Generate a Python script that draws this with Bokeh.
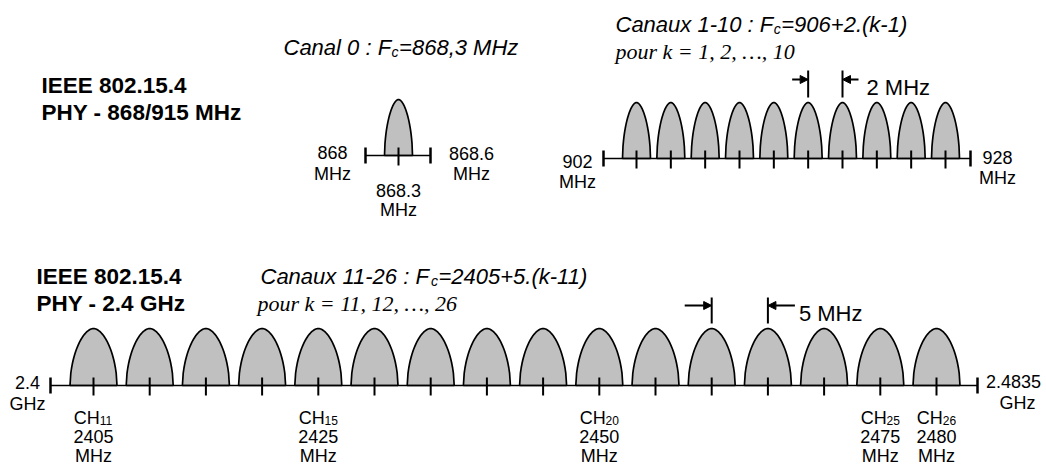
import numpy as np
from bokeh.plotting import figure
from bokeh.models import Range1d, Arrow, NormalHead
from bokeh.core.properties import value
from bokeh.embed import file_html
from bokeh.resources import INLINE

# ---------------- data ----------------
phy868_title = ["IEEE 802.15.4", "PHY - 868/915 MHz"]
phy24_title = ["IEEE 802.15.4", "PHY - 2.4 GHz"]

canal0_formula = ["Canal 0 : F", "c", "=868,3 MHz"]
canaux1_formula = ["Canaux 1-10 : F", "c", "=906+2.(k-1)"]
canaux1_range = "pour k = 1, 2, …, 10"
canaux11_formula = ["Canaux 11-26 : F", "c", "=2405+5.(k-11)"]
canaux11_range = "pour k = 11, 12, …, 26"

band868_edges = [868.0, 868.6]
band868_edge_labels = ["868", "868.6"]
band868_channels = [0]
band868_fc = [868.3]
band868_fc_labels = ["868.3"]

band915_edges = [902.0, 928.0]
band915_edge_labels = ["902", "928"]
band915_channels = [1, 2, 3, 4, 5, 6, 7, 8, 9, 10]
band915_fc = [906, 908, 910, 912, 914, 916, 918, 920, 922, 924]

band24_edges = [2400.0, 2483.5]
band24_edge_labels = ["2.4", "2.4835"]
band24_channels = [11, 12, 13, 14, 15, 16, 17, 18, 19, 20, 21, 22, 23, 24, 25, 26]
band24_fc = [2405, 2410, 2415, 2420, 2425, 2430, 2435, 2440,
             2445, 2450, 2455, 2460, 2465, 2470, 2475, 2480]
band24_labelled = [11, 15, 20, 25, 26]

spacing915_channels = [6, 7]
spacing915_label = "2 MHz"
spacing24_channels = [22, 23]
spacing24_label = "5 MHz"

# ---------------- layout (schematic, not to scale) ----------------
W, H = 1046, 464
SANS = "Liberation Sans"
SERIF = "Liberation Serif"
GREY = "#c0c0c0"

p = figure(width=W, height=H, output_backend="svg", toolbar_location=None,
           x_range=Range1d(0, W), y_range=Range1d(H, 0),
           x_axis_type=None, y_axis_type=None, min_border=0)
p.grid.visible = False
p.outline_line_color = None
p.background_fill_color = "white"
p.border_fill_color = "white"

ADV = {' ': 278, ':': 278, '=': 584, '+': 584, ',': 278, '.': 278, '-': 333,
       '(': 333, ')': 333, '/': 278, 'C': 722, 'a': 556, 'n': 556, 'l': 222,
       'u': 556, 'x': 500, 'F': 611, 'k': 500, 'c': 500, 'M': 833, 'H': 722,
       'z': 500, 'G': 778, 'I': 278, 'E': 667, 'P': 667, 'Y': 667}


def tw(s, size):
    return sum(ADV.get(ch, 556) for ch in s) * size / 1000.0


def txt(x, y, s, size, style="normal", font=SANS, align="left"):
    p.text(x=[x], y=[y], text=[s], text_font=value(font),
           text_font_size=f"{size}px", text_font_style=style,
           text_align=align, text_baseline="alphabetic", text_color="black")


def formula(x, yb, parts, size=22):
    head, sub, tail = parts
    txt(x, yb, head, size, "italic")
    x1 = x + tw(head, size) + 0.5
    ss = round(size * 0.64)
    txt(x1, yb + 4, sub, ss, "italic")
    txt(x1 + tw(sub, ss) + 0.5, yb, tail, size, "italic")


def bump_shapes(xc, y0, half_w, h):
    u = np.linspace(-1, 1, 61)
    prof = (1 - np.abs(u) ** 1.8) ** 0.55
    xs = [list(c + half_w * u) for c in xc]
    ys = [list(y0 - h * prof) for _ in xc]
    return xs, ys


def draw_band(fc, edges, knots_f, knots_px, y0, half_w, h):
    xc = np.interp(fc, knots_f, knots_px)
    xe = np.interp(edges, knots_f, knots_px)
    xs, ys = bump_shapes(xc, y0, half_w, h)
    p.patches(xs, ys, fill_color=GREY, line_color="black", line_width=1.7)
    p.segment(x0=[xe[0]], y0=[y0], x1=[xe[1]], y1=[y0], line_color="black", line_width=1.5)
    p.segment(x0=list(xc), y0=[y0 - 8] * len(xc), x1=list(xc), y1=[y0 + 10] * len(xc),
              line_color="black", line_width=2)
    p.segment(x0=list(xe), y0=[y0 - 8] * 2, x1=list(xe), y1=[y0 + 8] * 2,
              line_color="black", line_width=2.5)
    return xc, xe


def spacing_marker(xa, xb, y_top, y_bot, y_arr, shaft, label, label_gap):
    p.segment(x0=[xa, xb], y0=[y_top, y_top], x1=[xa, xb], y1=[y_bot, y_bot],
              line_color="black", line_width=2)
    for xs_, xe_ in ((xa - shaft, xa), (xb + shaft, xb)):
        p.add_layout(Arrow(end=NormalHead(size=8, fill_color="black", line_color="black"),
                           x_start=xs_, y_start=y_arr, x_end=xe_, y_end=y_arr,
                           line_color="black", line_width=1.8))
    txt(xb + label_gap, y_arr + 8, label, 22)


# ---------------- titles ----------------
txt(41, 85, phy868_title[0], 22.5, "bold")
txt(41, 112, phy868_title[1], 22.5, "bold")
txt(36, 276, phy24_title[0], 22.5, "bold")
txt(36, 303, phy24_title[1], 22.5, "bold")

formula(283, 47, canal0_formula)
formula(615, 24, canaux1_formula)
txt(615, 51, canaux1_range, 22, "italic", SERIF)
formula(260, 276, canaux11_formula)
txt(257, 303, canaux11_range, 22, "italic", SERIF)

# ---------------- band 868 MHz ----------------
y868 = 155
xc0, xe0 = draw_band(band868_fc, band868_edges,
                     [band868_edges[0], band868_fc[0], band868_edges[1]],
                     [365, 398, 430], y868, 14, 56)
txt(xe0[0] - 33, 152, band868_edge_labels[0], 18, align="center")
txt(xe0[0] - 33, 173, "MHz", 18, align="center")
txt(xe0[1] + 41, 153, band868_edge_labels[1], 18, align="center")
txt(xe0[1] + 41, 173, "MHz", 18, align="center")
txt(xc0[0], 190, band868_fc_labels[0], 18, align="center")
txt(xc0[0], 209, "MHz", 18, align="center")

# ---------------- band 915 MHz ----------------
y915 = 158
xc1, xe1 = draw_band(band915_fc, band915_edges,
                     [band915_edges[0], band915_fc[0], band915_fc[-1], band915_edges[1]],
                     [603, 636, 945, 970], y915, 14, 56)
txt(xe1[0] - 26, 161, band915_edge_labels[0], 18, align="center")
txt(xe1[0] - 26, 181, "MHz", 18, align="center")
txt(xe1[1] + 27, 157, band915_edge_labels[1], 18, align="center")
txt(xe1[1] + 27, 177, "MHz", 18, align="center")
ia = band915_channels.index(spacing915_channels[0])
ib = band915_channels.index(spacing915_channels[1])
spacing_marker(xc1[ia], xc1[ib], 70, 97, 79, 16, spacing915_label, 24)

# ---------------- band 2.4 GHz ----------------
y24 = 385
xc2, xe2 = draw_band(band24_fc, band24_edges,
                     [band24_edges[0], band24_fc[0], band24_fc[-1], band24_edges[1]],
                     [50, 93, 936, 977], y24, 23.5, 57)
txt(xe2[0] - 23, 382, band24_edge_labels[0], 18, align="center")
txt(xe2[0] - 23, 403, "GHz", 18, align="center")
txt(xe2[1] + 36, 381, band24_edge_labels[1], 18, align="center")
txt(xe2[1] + 40, 402, "GHz", 18, align="center")
for ch in band24_labelled:
    i = band24_channels.index(ch)
    cx = xc2[i]
    w1, w2 = tw("CH", 18), tw(str(ch), 12)
    left = cx - (w1 + w2) / 2
    txt(left, y24 + 32, "CH", 18)
    txt(left + w1, y24 + 35, str(ch), 12)
    txt(cx, y24 + 51, str(band24_fc[i]), 18, align="center")
    txt(cx, y24 + 70, "MHz", 18, align="center")
ia = band24_channels.index(spacing24_channels[0])
ib = band24_channels.index(spacing24_channels[1])
spacing_marker(xc2[ia], xc2[ib], 297, 323, 305, 27, spacing24_label, 31)

open("out.html", "w").write(file_html(p, INLINE))
